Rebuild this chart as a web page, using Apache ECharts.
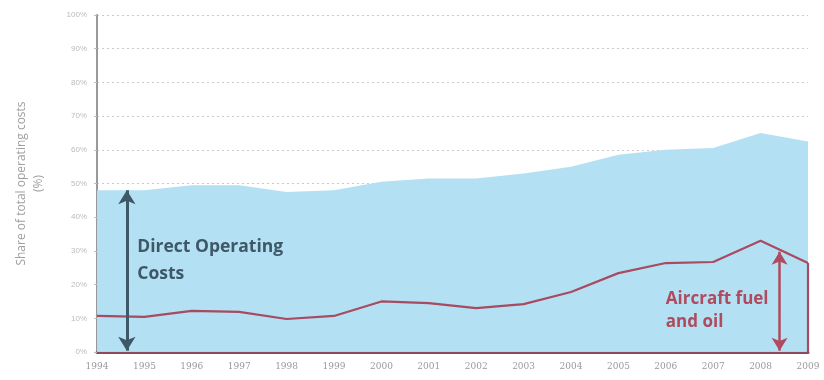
<!DOCTYPE html>
<html>
<head>
<meta charset="utf-8">
<script src="https://cdn.jsdelivr.net/npm/echarts@6/dist/echarts.min.js"></script>
<style>html,body{margin:0;padding:0;background:#fff;}#c{width:824px;height:380px;}</style>
</head>
<body>
<div id="c"></div>
<script>
var years = [1994,1995,1996,1997,1998,1999,2000,2001,2002,2003,2004,2005,2006,2007,2008,2009];
var directOperatingCosts = [48,48,49.5,49.5,47.5,48,50.5,51.5,51.5,53,55,58.5,60,60.5,65,62.5];
var fuelAndOil = [10.7,10.4,12.2,11.9,9.8,10.7,15,14.5,13,14.2,17.8,23.4,26.4,26.7,33,26.4];
var yTicks = [0,10,20,30,40,50,60,70,80,90,100];

var chart = echarts.init(document.getElementById('c'), null, {renderer:'canvas'});
function pairs(v){ return years.map(function(y,i){return [y, v[i]];}); }
var last = years.length - 1;
var docArrowX = 1994.63, fuelArrowX = 2008.4;
var fuelAtArrow = fuelAndOil[last-1] + (fuelAndOil[last]-fuelAndOil[last-1])*(fuelArrowX-years[last-1]);

chart.setOption({
  animation:false,
  grid:{left:97,right:16,top:15,bottom:28, containLabel:false, outerBoundsMode:'none'},
  xAxis:{
    type:'value', min:yearsMin(), max:years[last], interval:1,
    axisLine:{show:true, onZero:false, lineStyle:{color:'#8e4a5a', width:3}},
    axisTick:{show:false},
    splitLine:{show:false},
    axisLabel:{color:'#999', fontSize:9, fontFamily:'DejaVu Serif', margin:10, formatter:function(v){return String(v);}}
  },
  yAxis:{
    type:'value', min:yTicks[0], max:yTicks[yTicks.length-1], interval:10,
    name:'Share of total operating costs\n(%)', nameLocation:'middle', nameGap:50, nameRotate:90,
    nameTextStyle:{color:'#a0a0a0', fontSize:12, fontFamily:'Open Sans', lineHeight:17},
    axisLine:{show:true, lineStyle:{color:'#999', width:2}},
    axisTick:{show:true, length:3, lineStyle:{color:'#bbb'}},
    splitLine:{show:true, lineStyle:{color:'#ccc', type:[2,3], width:1}},
    axisLabel:{color:'#bbb', fontSize:8, margin:10, formatter:'{value}%'}
  },
  series:[
    {
      name:'Direct Operating Costs', type:'line', data:pairs(directOperatingCosts),
      symbol:'none', lineStyle:{width:0}, areaStyle:{color:'#afdef2', opacity:0.95},
      z:1,
      markLine:{
        silent:true, symbol:['arrow','arrow'], symbolSize:[13,14],
        lineStyle:{color:'#3e5868', width:3, type:'solid'}, label:{show:false},
        data:[[{coord:[docArrowX, directOperatingCosts[0]]},{coord:[docArrowX, 0.4]}]]
      },
      markPoint:{
        silent:true, symbol:'rect', symbolSize:0,
        data:[{coord:[docArrowX+0.22, 27], value:0}],
        label:{show:true, position:'right', distance:0, formatter:'Direct Operating\nCosts',
          color:'#3e5868', fontSize:17.5, fontWeight:'bold', fontFamily:'Open Sans', lineHeight:27, align:'left'}
      }
    },
    {
      name:'Aircraft fuel and oil', type:'line', data:pairs(fuelAndOil),
      symbol:'none', lineStyle:{color:'#a84a60', width:2.2}, z:3,
      markLine:{
        silent:true, label:{show:false},
        data:[
          [{coord:[years[last], fuelAndOil[last]], symbol:'none'},{coord:[years[last], 0], symbol:'none', lineStyle:{color:'#a84a60', width:2.2, type:'solid'}}],
          [{coord:[fuelArrowX, fuelAtArrow-0.6], symbol:'arrow', symbolSize:[12,13]},{coord:[fuelArrowX, 0.4], symbol:'arrow', symbolSize:[12,13], lineStyle:{color:'#b04a5e', width:2.5, type:'solid'}}]
        ],
        lineStyle:{color:'#a84a60', width:2.2, type:'solid'}
      },
      markPoint:{
        silent:true, symbol:'rect', symbolSize:0,
        data:[{coord:[2006.0, 12.2], value:0}],
        label:{show:true, position:'right', distance:0, formatter:'Aircraft fuel\nand oil',
          color:'#b04a5e', fontSize:17, fontWeight:'bold', fontFamily:'Open Sans', lineHeight:23, align:'left'}
      }
    }
  ]
});
function yearsMin(){ return years[0]; }
</script>
</body>
</html>
